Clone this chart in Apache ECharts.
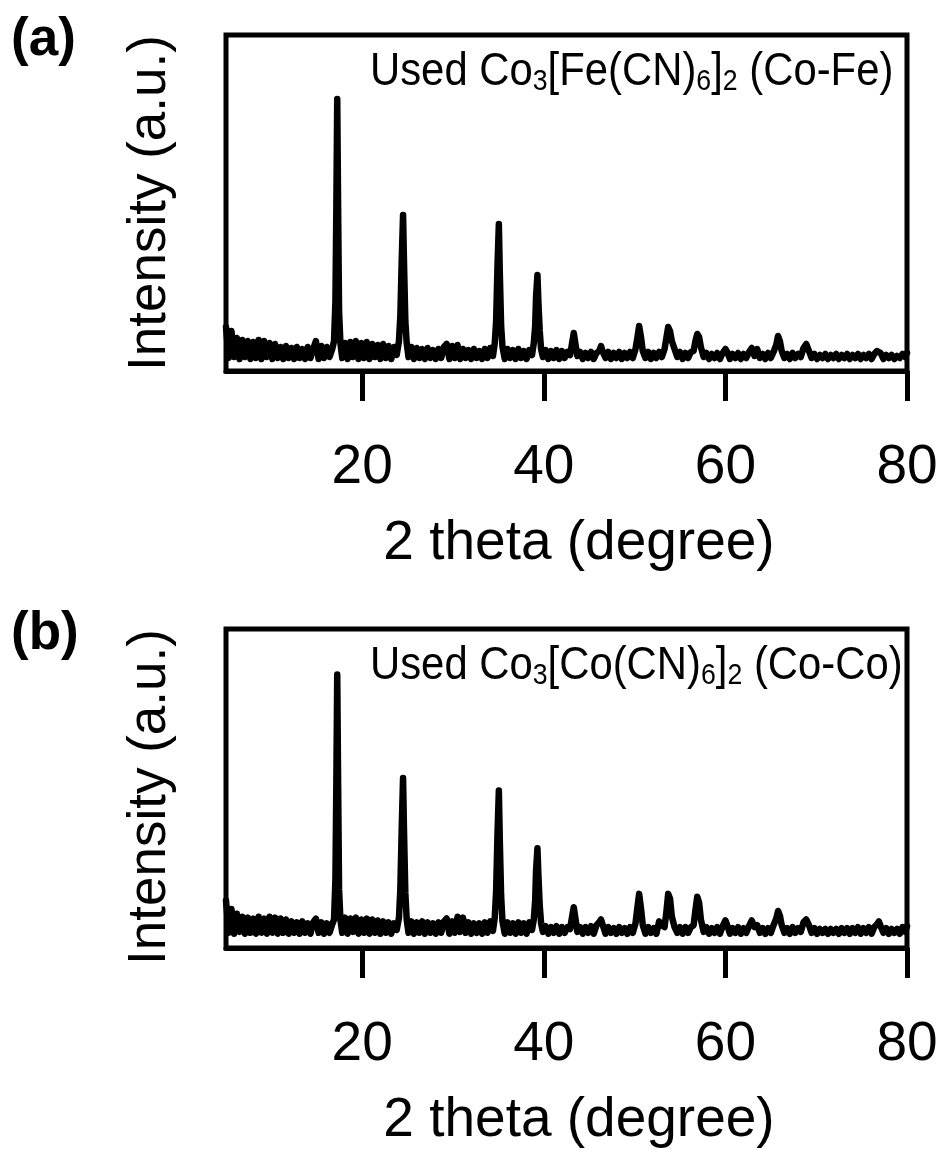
<!DOCTYPE html>
<html>
<head>
<meta charset="utf-8">
<script src="https://cdn.jsdelivr.net/npm/echarts@6/dist/echarts.min.js"></script>
<style>
  html, body { margin: 0; padding: 0; background: #fff; }
  #main { width: 942px; height: 1149px; }
</style>
</head>
<body>
<div id="main"></div>
<script>
// XRD patterns: [2theta (deg), intensity (a.u.)]
var xrdCoFe = [
  [5.0,44],[5.3,13],[5.6,40],[5.9,14],[6.2,33],[6.5,12],[6.8,31],[7.1,14],[7.4,30],[7.7,12],
  [8.0,29],[8.3,13],[8.6,31],[8.9,12],[9.2,30],[9.5,14],[9.8,28],[10.1,12],[10.4,27],[10.7,13],
  [11.0,24],[11.3,12],[11.6,25],[11.9,13],[12.2,23],[12.5,12],[12.8,24],[13.1,13],[13.4,22],[13.7,12],
  [14.0,24],[14.3,13],[14.6,22],[14.9,30],[15.2,12],[15.5,25],[15.8,13],[16.1,24],[16.4,14],[16.7,22],
  [16.9,30],[17.05,70],[17.15,160],[17.25,272],[17.35,160],[17.45,60],[17.6,28],
  [17.8,13],[18.1,28],[18.4,12],[18.7,29],[19.0,14],[19.3,30],[19.6,12],[19.9,28],[20.2,13],[20.5,29],
  [20.8,12],[21.1,27],[21.4,14],[21.7,26],[22.0,12],[22.3,27],[22.6,13],[22.9,25],[23.2,12],[23.5,24],[23.8,16],
  [24.05,30],[24.2,55],[24.35,110],[24.5,156],[24.6,110],[24.75,50],[24.9,28],
  [25.1,14],[25.4,24],[25.7,12],[26.0,23],[26.3,13],[26.6,22],[26.9,12],[27.2,23],[27.5,13],[27.8,21],
  [28.1,12],[28.4,22],[28.7,13],[29.0,24],[29.3,27],[29.6,12],[29.9,25],[30.2,13],[30.5,26],[30.8,12],
  [31.1,22],[31.4,13],[31.7,21],[32.0,12],[32.3,22],[32.6,13],[32.9,20],[33.2,12],[33.5,22],[33.8,13],
  [34.1,23],[34.4,15],
  [34.6,28],[34.75,50],[34.9,105],[35.05,147],[35.15,100],[35.3,45],[35.45,24],
  [35.7,12],[36.0,22],[36.3,13],[36.6,21],[36.9,12],[37.2,22],[37.5,13],[37.8,20],[38.1,12],[38.4,21],[38.7,16],
  [38.9,28],[39.05,45],[39.15,75],[39.3,96],[39.4,70],[39.55,40],[39.7,22],
  [39.9,14],[40.2,21],[40.5,12],[40.8,20],[41.1,13],[41.4,21],[41.7,12],[42.0,20],[42.3,13],[42.6,19],
  [42.9,16],[43.1,27],[43.3,38],[43.5,26],[43.7,15],[44.0,19],[44.3,12],[44.6,18],[44.9,13],[45.2,19],
  [45.5,12],[45.8,18],[46.1,20],[46.3,25],[46.5,19],[46.8,13],[47.1,19],[47.4,12],[47.7,18],[48.0,13],
  [48.3,19],[48.6,12],[48.9,18],[49.2,13],[49.5,19],[49.8,13],[50.1,22],[50.3,33],[50.5,45],[50.7,34],
  [50.9,20],[51.2,13],[51.5,19],[51.8,12],[52.1,18],[52.4,13],[52.7,19],[53.0,14],[53.3,22],[53.5,33],
  [53.7,44],[53.9,40],[54.1,30],[54.4,22],[54.7,14],[55.0,19],[55.3,12],[55.6,18],[55.9,13],[56.2,19],
  [56.5,20],[56.7,30],[56.9,37],[57.1,34],[57.3,24],[57.6,14],[57.9,18],[58.2,12],[58.5,17],[58.8,13],
  [59.1,18],[59.4,12],[59.7,18],[60.0,22],[60.2,19],[60.5,12],[60.8,17],[61.1,13],[61.4,18],[61.7,12],
  [62.0,17],[62.3,13],[62.6,19],[62.9,23],[63.2,15],[63.5,22],[63.8,13],[64.1,17],[64.4,12],[64.7,18],
  [65.0,13],[65.3,19],[65.6,26],[65.8,35],[66.0,30],[66.2,20],[66.5,13],[66.8,17],[67.1,12],[67.4,18],
  [67.7,13],[68.0,17],[68.3,14],[68.6,23],[68.9,27],[69.2,20],[69.5,13],[69.8,17],[70.1,12],[70.4,16],
  [70.7,13],[71.0,17],[71.3,12],[71.6,16],[71.9,13],[72.2,17],[72.5,12],[72.8,16],[73.1,13],[73.4,17],
  [73.7,12],[74.0,16],[74.3,13],[74.6,17],[74.9,12],[75.2,16],[75.5,13],[75.8,17],[76.1,12],[76.4,17],
  [76.7,20],[76.9,22],[77.1,18],[77.4,12],[77.7,16],[78.0,13],[78.3,16],[78.6,12],[78.9,15],[79.2,13],
  [79.5,17],[79.8,14],[80.0,18]
];

var xrdCoCo = [
  [5.0,50],[5.3,16],[5.6,41],[5.9,15],[6.2,36],[6.5,17],[6.8,33],[7.1,15],[7.4,32],[7.7,16],
  [8.0,31],[8.3,15],[8.6,33],[8.9,16],[9.2,31],[9.5,15],[9.8,33],[10.1,16],[10.4,32],[10.7,15],
  [11.0,31],[11.3,16],[11.6,30],[11.9,15],[12.2,28],[12.5,16],[12.8,27],[13.1,15],[13.4,28],[13.7,16],
  [14.0,26],[14.3,15],[14.6,27],[14.9,31],[15.2,16],[15.5,27],[15.8,15],[16.1,26],[16.4,16],[16.7,25],
  [16.9,30],[17.05,72],[17.15,170],[17.25,288],[17.35,170],[17.45,62],[17.6,30],
  [17.8,16],[18.1,32],[18.4,15],[18.7,31],[19.0,17],[19.3,32],[19.6,15],[19.9,30],[20.2,16],[20.5,31],
  [20.8,15],[21.1,30],[21.4,16],[21.7,29],[22.0,15],[22.3,28],[22.6,16],[22.9,27],[23.2,15],[23.5,26],[23.8,19],
  [24.05,32],[24.2,62],[24.35,125],[24.5,179],[24.6,125],[24.75,58],[24.9,30],
  [25.1,16],[25.4,28],[25.7,15],[26.0,27],[26.3,16],[26.6,28],[26.9,15],[27.2,27],[27.5,16],[27.8,26],
  [28.1,15],[28.4,27],[28.7,16],[29.0,28],[29.3,31],[29.6,15],[29.9,28],[30.2,16],[30.5,33],[30.8,17],
  [31.1,32],[31.4,16],[31.7,27],[32.0,15],[32.3,26],[32.6,16],[32.9,26],[33.2,15],[33.5,27],[33.8,16],
  [34.1,28],[34.4,18],
  [34.6,32],[34.75,60],[34.9,120],[35.05,166],[35.15,115],[35.3,55],[35.45,28],
  [35.7,15],[36.0,27],[36.3,16],[36.6,26],[36.9,15],[37.2,27],[37.5,16],[37.8,26],[38.1,15],[38.4,27],[38.7,19],
  [38.9,30],[39.05,50],[39.15,82],[39.3,105],[39.4,78],[39.55,45],[39.7,26],
  [39.9,17],[40.2,23],[40.5,15],[40.8,22],[41.1,16],[41.4,23],[41.7,15],[42.0,22],[42.3,16],[42.6,22],
  [42.9,20],[43.1,32],[43.3,43],[43.5,30],[43.7,17],[44.0,22],[44.3,15],[44.6,22],[44.9,16],[45.2,23],
  [45.5,15],[45.8,24],[46.1,27],[46.3,30],[46.5,24],[46.8,15],[47.1,22],[47.4,16],[47.7,21],[48.0,15],
  [48.3,22],[48.6,16],[48.9,21],[49.2,15],[49.5,22],[49.8,16],[50.1,26],[50.3,42],[50.5,57],[50.7,42],
  [50.9,24],[51.2,15],[51.5,22],[51.8,16],[52.1,21],[52.4,15],[52.7,28],[53.0,24],[53.3,22],[53.5,38],
  [53.7,57],[53.9,52],[54.1,33],[54.4,22],[54.7,16],[55.0,22],[55.3,15],[55.6,22],[55.9,16],[56.2,22],
  [56.5,24],[56.7,40],[56.9,54],[57.1,48],[57.3,30],[57.6,17],[57.9,22],[58.2,15],[58.5,21],[58.8,16],
  [59.1,22],[59.4,15],[59.7,23],[60.0,29],[60.2,24],[60.5,15],[60.8,21],[61.1,16],[61.4,22],[61.7,15],
  [62.0,21],[62.3,16],[62.6,23],[62.9,29],[63.2,22],[63.5,24],[63.8,16],[64.1,21],[64.4,15],[64.7,21],
  [65.0,16],[65.3,24],[65.6,31],[65.8,39],[66.0,34],[66.2,24],[66.5,16],[66.8,21],[67.1,15],[67.4,22],
  [67.7,16],[68.0,21],[68.3,17],[68.6,27],[68.9,30],[69.2,24],[69.5,16],[69.8,21],[70.1,15],[70.4,20],
  [70.7,16],[71.0,20],[71.3,15],[71.6,20],[71.9,16],[72.2,20],[72.5,15],[72.8,21],[73.1,16],[73.4,21],
  [73.7,15],[74.0,21],[74.3,16],[74.6,22],[74.9,15],[75.2,21],[75.5,16],[75.8,22],[76.1,15],[76.4,22],
  [76.7,25],[76.9,28],[77.1,23],[77.4,16],[77.7,21],[78.0,15],[78.3,20],[78.6,16],[78.9,20],[79.2,15],
  [79.5,22],[79.8,17],[80.0,23]
];

var xTicks = [20, 40, 60, 80];
var xTitle = '2 theta (degree)';
var yTitle = 'Intensity (a.u.)';
var panelLetters = ['(a)', '(b)'];

var FONT = "'Liberation Sans', Arial, sans-serif";

function makeXAxis(gridIndex) {
  return {
    type: 'value',
    gridIndex: gridIndex,
    min: 5,
    max: 80,
    name: xTitle,
    nameLocation: 'middle',
    nameGap: 145,
    nameTextStyle: {
      fontFamily: FONT,
      fontSize: 55,
      color: '#000',
      padding: [0, 0, 0, 25]
    },
    axisLine: { show: true, lineStyle: { color: '#000', width: 5 } },
    axisTick: {
      show: true,
      inside: false,
      length: 30,
      customValues: xTicks,
      lineStyle: { color: '#000', width: 5 }
    },
    axisLabel: {
      show: true,
      customValues: xTicks,
      margin: 69,
      fontFamily: FONT,
      fontSize: 55,
      color: '#000'
    },
    splitLine: { show: false }
  };
}

function makeYAxis(gridIndex) {
  return {
    type: 'value',
    gridIndex: gridIndex,
    min: 0,
    max: 336,
    axisLine: { show: false },
    axisTick: { show: false },
    axisLabel: { show: false },
    splitLine: { show: false }
  };
}

function makeSeries(idx, data) {
  return {
    type: 'line',
    xAxisIndex: idx,
    yAxisIndex: idx,
    data: data,
    showSymbol: false,
    symbol: 'none',
    lineStyle: { color: '#000', width: 6.5, join: 'round', cap: 'round' },
    z: 3
  };
}

function label(text, x, y) {
  return {
    type: 'text',
    x: x,
    y: y,
    style: {
      text: text,
      fontFamily: FONT,
      fontSize: 53,
      fontWeight: 'bold',
      fill: '#000',
      align: 'left',
      verticalAlign: 'middle'
    }
  };
}

function yLabel(y) {
  return {
    type: 'text',
    x: 150,
    y: y,
    rotation: Math.PI / 2,
    style: {
      text: yTitle,
      fontFamily: FONT,
      fontSize: 53,
      fill: '#000',
      align: 'center',
      verticalAlign: 'middle'
    }
  };
}

// sample name, slightly condensed like the original artwork
function sampleNote(metal, tag, y) {
  return {
    type: 'text',
    x: 370,
    y: y,
    scaleX: 0.89,
    style: {
      text: '{m|Used Co}{s|3}{m|[' + metal + '(CN)}{s|6}{m|]}{s|2}{m| (' + tag + ')}',
      align: 'left',
      verticalAlign: 'top',
      fill: '#000',
      rich: {
        m: { fontFamily: FONT, fontSize: 47, lineHeight: 50, fill: '#000' },
        s: { fontFamily: FONT, fontSize: 30, lineHeight: 22, verticalAlign: 'bottom', fill: '#000' }
      }
    }
  };
}

var chart = echarts.init(document.getElementById('main'));
var option = {
  animation: false,
  backgroundColor: '#fff',
  grid: [
    { left: 226, top: 35, width: 681, height: 336, show: true, borderColor: '#000', borderWidth: 5, backgroundColor: 'transparent' },
    { left: 226, top: 629, width: 681, height: 336, show: true, borderColor: '#000', borderWidth: 5, backgroundColor: 'transparent' }
  ],
  xAxis: [makeXAxis(0), makeXAxis(1)],
  yAxis: [makeYAxis(0), makeYAxis(1)],
  series: [makeSeries(0, xrdCoFe), makeSeries(1, xrdCoCo)],
  graphic: [
    label(panelLetters[0], 11, 40),
    label(panelLetters[1], 11, 634),
    yLabel(203),
    yLabel(797),
    sampleNote('Fe', 'Co-Fe', 47),
    sampleNote('Co', 'Co-Co', 641)
  ]
};
chart.setOption(option);
</script>
</body>
</html>
